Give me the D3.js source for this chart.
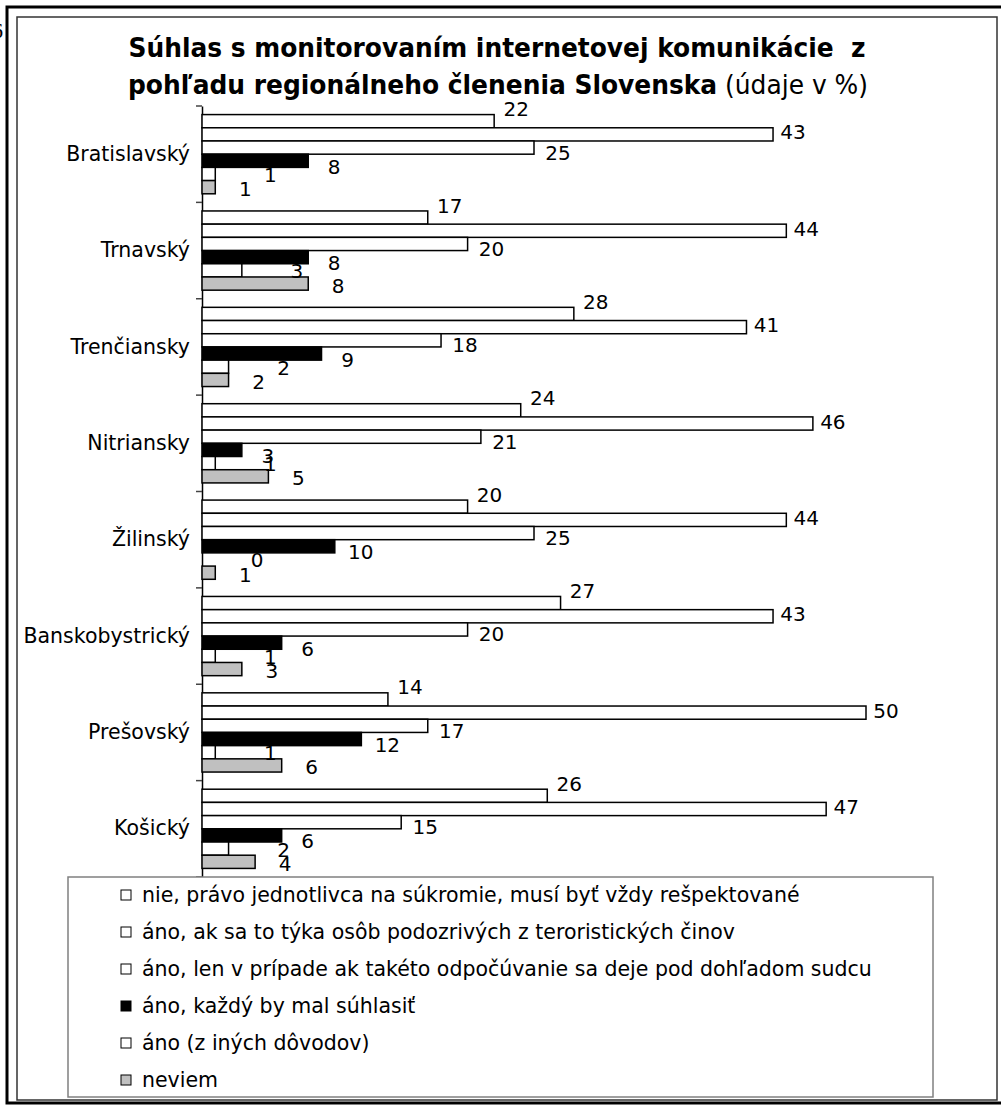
<html>
<head>
  <meta charset="utf-8">
  <script src="https://d3js.org/d3.v7.min.js"></script>
  <title>Súhlas s monitorovaním</title>
<style>
body {
  margin: 0;
  background: #fff;
}
text {
  font-family: "DejaVu Sans", sans-serif;
  fill: #000;
  white-space: pre;
}
</style>
</head>
<body>
<script>
var regions = ['Bratislavský', 'Trnavský', 'Trenčiansky', 'Nitriansky', 'Žilinský', 'Banskobystrický', 'Prešovský', 'Košický'];
var answers = [
  'nie, právo jednotlivca na súkromie, musí byť vždy rešpektované',
  'áno, ak sa to týka osôb podozrivých z teroristických činov',
  'áno, len v prípade ak takéto odpočúvanie sa deje pod dohľadom sudcu',
  'áno, každý by mal súhlasiť',
  'áno (z iných dôvodov)',
  'neviem'
];
var nie    = [22, 17, 28, 24, 20, 27, 14, 26];
var teror  = [43, 44, 41, 46, 44, 43, 50, 47];
var sudca  = [25, 20, 18, 21, 25, 20, 17, 15];
var kazdy  = [8, 8, 9, 3, 10, 6, 12, 6];
var ine    = [1, 3, 2, 1, 0, 1, 1, 2];
var neviem = [1, 8, 2, 5, 1, 3, 6, 4];
var series = [nie, teror, sudca, kazdy, ine, neviem];

var fills = ['#fff', '#fff', '#fff', '#000', '#fff', '#c0c0c0'];
// label nudges per series, roughly where excel dropped them
var labelDx = [22, 20, 24, 26, 55, 30];
var labelDy = [-12, -2, 5, 6, 1, 2];

var width = 1001, height = 1108;
var svg = d3.select('body').append('svg')
  .attr('width', width)
  .attr('height', height);

// frames
svg.append('rect')
  .attr('x', 7).attr('y', 7).attr('width', 1010).attr('height', 1096)
  .style('fill', 'none').style('stroke', '#000').style('stroke-width', 3);
svg.append('rect')
  .attr('x', 17).attr('y', 17).attr('width', 980).attr('height', 1083)
  .style('fill', 'none').style('stroke', '#333').style('stroke-width', 1.5);
svg.append('text')
  .attr('x', -8).attr('y', 38)
  .style('font-family', '"Liberation Serif", serif')
  .style('font-size', '22px')
  .text('6');

// title
var title = svg.append('g').attr('text-anchor', 'middle');
title.append('text')
  .attr('x', 497).attr('y', 57)
  .attr('textLength', 737).attr('lengthAdjust', 'spacingAndGlyphs')
  .style('font-size', '26px').style('font-weight', 'bold')
  .text('Súhlas s monitorovaním internetovej komunikácie  z');
var t2 = title.append('text')
  .attr('x', 498).attr('y', 94)
  .attr('textLength', 740).attr('lengthAdjust', 'spacingAndGlyphs')
  .style('font-size', '26px');
t2.append('tspan').style('font-weight', 'bold').text('pohľadu regionálneho členenia Slovenska');
t2.append('tspan').text(' (údaje v %)');

var x = d3.scaleLinear().domain([0, 50]).range([202, 866]);
var y = d3.scaleBand().domain(regions).range([106, 877]);
var inner = d3.scaleBand().domain(d3.range(6)).range([0, y.bandwidth()]).paddingOuter(0.65);

// axis
var axis = svg.append('g')
  .attr('transform', 'translate(202,0)')
  .call(d3.axisLeft(y).tickSize(0).tickPadding(12));
axis.select('.domain').style('stroke', '#000').style('stroke-width', 1.5);
axis.selectAll('text')
  .style('font-family', '"DejaVu Sans", sans-serif')
  .style('font-size', '20.5px');

var bounds = regions.map(function (d) { return y(d); }).concat([y.range()[1]]);
svg.selectAll('line.tick')
  .data(bounds)
  .enter().append('line')
  .attr('class', 'tick')
  .attr('x1', 196).attr('x2', 202)
  .attr('y1', function (d) { return d; })
  .attr('y2', function (d) { return d; })
  .style('stroke', '#444').style('stroke-width', 1.5);

// bars
var cells = [];
regions.forEach(function (r, i) {
  series.forEach(function (s, j) {
    cells.push({region: r, s: j, v: s[i]});
  });
});

svg.append('g').selectAll('rect')
  .data(cells)
  .enter().append('rect')
  .attr('x', x(0))
  .attr('y', function (d) { return y(d.region) + inner(d.s); })
  .attr('width', function (d) { return x(d.v) - x(0); })
  .attr('height', inner.bandwidth())
  .style('fill', function (d) { return fills[d.s]; })
  .style('stroke', '#000')
  .style('stroke-width', 1.5);

svg.append('g').selectAll('text')
  .data(cells)
  .enter().append('text')
  .attr('x', function (d) { return x(d.v) + labelDx[d.s]; })
  .attr('y', function (d) { return y(d.region) + inner(d.s) + inner.bandwidth() / 2 + labelDy[d.s]; })
  .attr('text-anchor', 'middle')
  .attr('dominant-baseline', 'central')
  .style('font-size', '20px')
  .text(function (d) { return d.v; });

// legend
var legend = svg.append('g');
legend.append('rect')
  .attr('x', 68).attr('y', 877).attr('width', 865).attr('height', 220)
  .style('fill', '#fff').style('stroke', '#808080').style('stroke-width', 1.5);
var item = legend.selectAll('g.item')
  .data(answers)
  .enter().append('g')
  .attr('class', 'item')
  .attr('transform', function (d, i) { return 'translate(0,' + (895 + i * 37) + ')'; });
item.append('rect')
  .attr('x', 121).attr('y', -5).attr('width', 10).attr('height', 10)
  .style('fill', function (d, i) { return fills[i]; })
  .style('stroke', '#000').style('stroke-width', 1);
item.append('text')
  .attr('x', 142)
  .attr('dominant-baseline', 'central')
  .style('font-size', '20.5px')
  .text(function (d) { return d; });
</script>
</body>
</html>
